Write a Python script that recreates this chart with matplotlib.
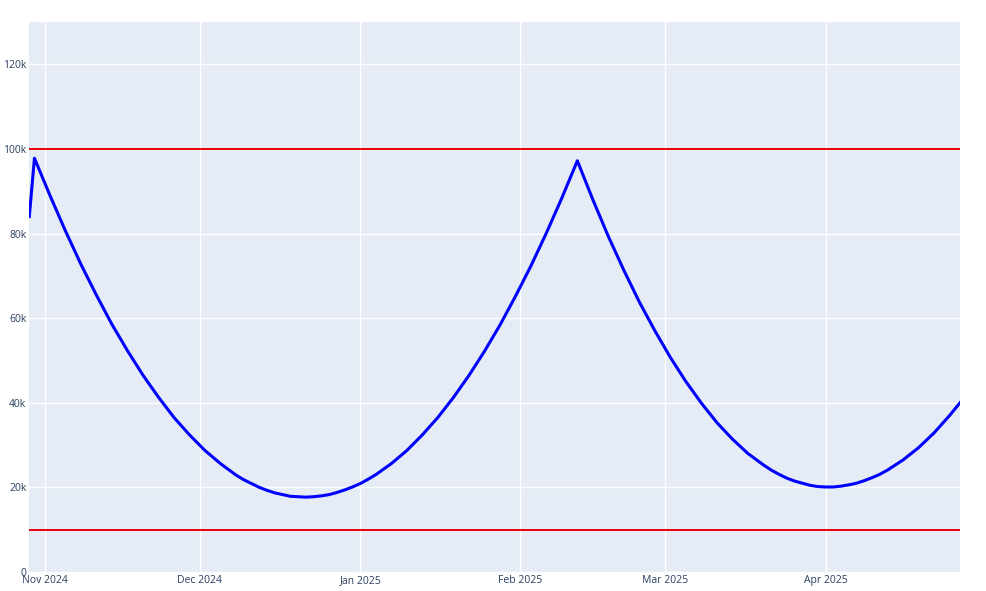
import pandas as pd
import numpy as np
import matplotlib.pyplot as plt
import matplotlib.dates as mdates
from matplotlib.ticker import FuncFormatter

# values (thousands); denser near the two troughs
start = pd.Timestamp('2024-10-29')
day_offsets = [0, 1, 4, 7, 10, 13, 16, 19, 22, 25, 28, 31, 34, 37, 40,
               41.5, 43, 44.5, 46, 47.5, 49, 50.5, 52, 53.5, 55, 56.5, 58, 59.5, 61, 62.5,
               64, 65.5, 67,
               70, 73, 76, 79, 82, 85, 88, 91, 94, 97, 100, 103, 106,
               109, 112, 115, 118, 121, 124, 127, 130, 133, 136, 139, 142,
               143.5, 145, 146.5, 148, 149.5, 151, 152.5, 154, 155.5, 157, 158.5, 160,
               161.5, 163, 164.5, 166,
               169, 172, 175, 178, 180]
values_k = [84.0, 97.8, 89.0, 80.6, 72.7, 65.4, 58.5, 52.3, 46.5, 41.3, 36.5, 32.4, 28.7,
            25.6, 22.9,
            21.8, 20.9, 20.0, 19.3, 18.7, 18.3, 17.9, 17.8, 17.7, 17.8, 18.0, 18.3, 18.8,
            19.4, 20.1, 20.9, 21.9, 23.0,
            25.6, 28.7, 32.4, 36.5, 41.2, 46.4, 52.1, 58.3, 65.1, 72.3, 80.1, 88.4, 97.2,
            88.0, 79.3, 71.3, 63.8, 57.0, 50.7, 45.0, 39.9, 35.3, 31.4, 28.0, 25.3,
            24.1, 23.1, 22.2, 21.5, 21.0, 20.5, 20.2, 20.1, 20.1, 20.3, 20.6, 21.0,
            21.6, 22.3, 23.1, 24.1,
            26.5, 29.4, 32.9, 37.0, 40.0]
upper_limit = 100000
lower_limit = 10000

df = pd.DataFrame({
    'date': [start + pd.Timedelta(days=d) for d in day_offsets],
    'value': [v * 1000 for v in values_k],
})

plt.rcParams['font.family'] = ['Open Sans', 'DejaVu Sans']

fig = plt.figure(figsize=(9.86, 5.91), dpi=100)
ax = fig.add_axes([0.0297, 0.0321, 0.9439, 0.9307])
ax.set_facecolor('#E5ECF6')
for s in ax.spines.values():
    s.set_visible(False)

ax.plot(df['date'], df['value'], color='#0000ff', lw=2.2, solid_joinstyle='round', zorder=3)
ax.axhline(upper_limit, color='#e8000b', lw=1.4, zorder=2)
ax.axhline(lower_limit, color='#e8000b', lw=1.4, zorder=2)

ax.set_xlim(start, pd.Timestamp('2025-04-27'))
ax.set_ylim(0, 130000)
ax.set_yticks(np.arange(0, 130000, 20000))
ax.yaxis.set_major_formatter(FuncFormatter(lambda v, p: '0' if v == 0 else f'{int(v/1000)}k'))
ax.xaxis.set_major_locator(mdates.MonthLocator())
ax.xaxis.set_major_formatter(mdates.DateFormatter('%b %Y'))

ax.grid(True, color='white', lw=1)
ax.set_axisbelow(True)
ax.tick_params(length=0, labelsize=7.5, colors='#2a3f5f', pad=2)

plt.savefig('out.png', dpi=100)
